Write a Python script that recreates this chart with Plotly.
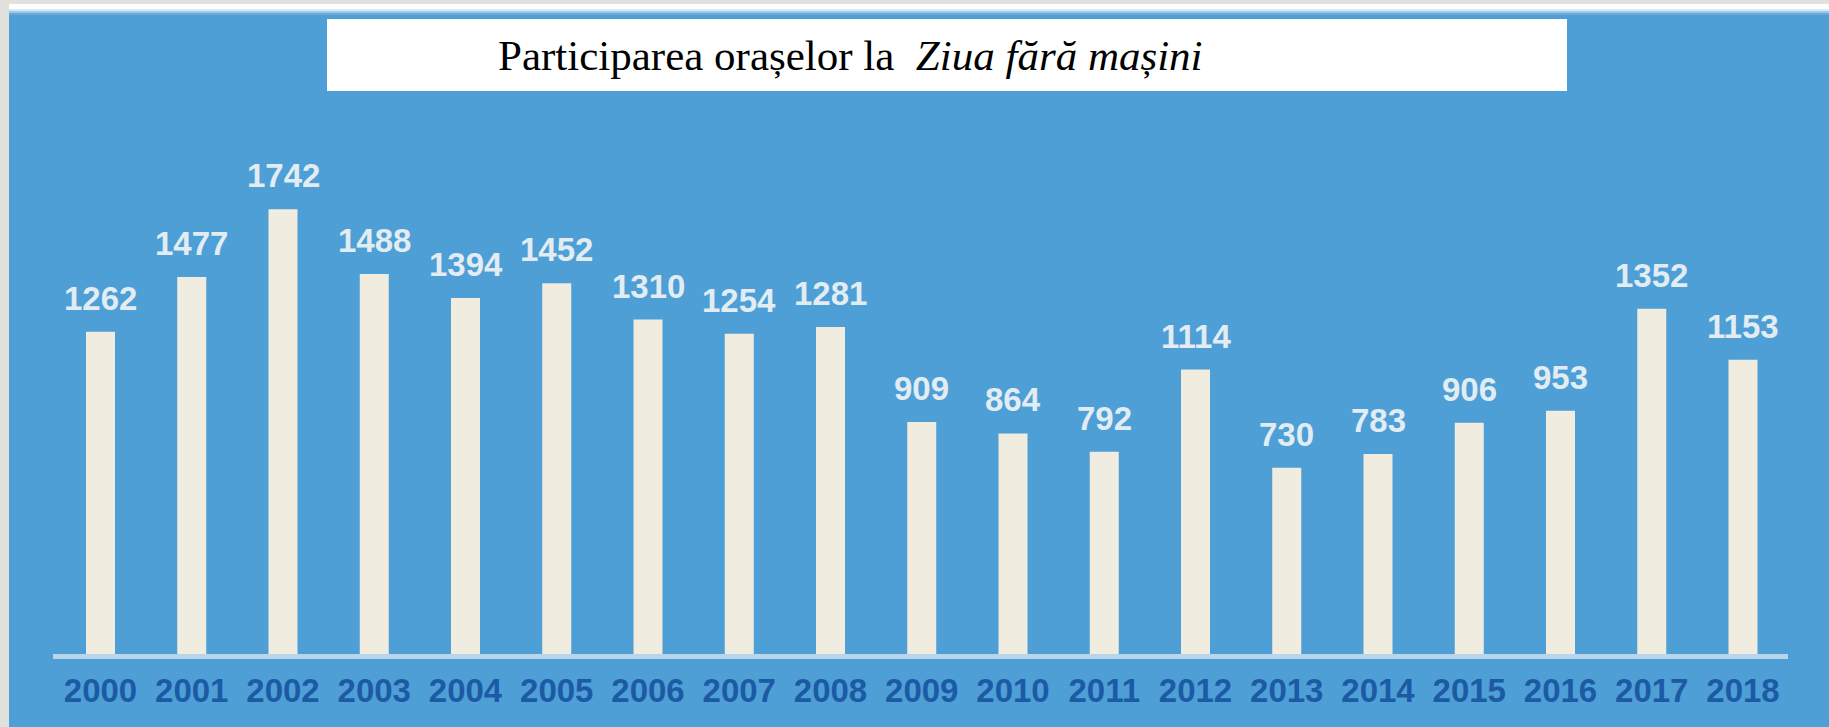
import plotly.graph_objects as go

# ---- data ----
years = ["2000", "2001", "2002", "2003", "2004", "2005", "2006", "2007", "2008", "2009",
         "2010", "2011", "2012", "2013", "2014", "2015", "2016", "2017", "2018"]
cities = [1262, 1477, 1742, 1488, 1394, 1452, 1310, 1254, 1281, 909,
          864, 792, 1114, 730, 783, 906, 953, 1352, 1153]
title_plain = "Participarea orașelor la\u00a0 "
title_italic = "Ziua fără mașini"

# ---- geometry (pixels) ----
W, H = 1829, 727
BASE = 654            # baseline pixel (bottom of plot area)
PX_PER_UNIT = 0.2553
FIRST_C, PITCH = 100.5, 91.25

BLUE = "#4e9fd6"
BAR = "#f0ecdf"
GRAY = "#e0e0dc"
TICK = "#1d5aa5"
LABEL = "#e2ecf3"


def px_x(p):
    return p / W


def px_y(p):
    return (BASE - p) / BASE


fig = go.Figure()
fig.add_trace(go.Bar(
    x=years, y=cities, marker=dict(color=BAR, line=dict(width=0)),
    width=29 / PITCH, hoverinfo="x+y",
))

annotations = []
for i, v in enumerate(cities):
    annotations.append(dict(
        x=i, y=v, xref="x", yref="y", text=str(v), showarrow=False,
        yanchor="bottom", xanchor="center", yshift=13,
        font=dict(family="Liberation Sans, Arial", size=33, color=LABEL, weight="bold"),
    ))

annotations.append(dict(
    x=px_x(496), y=px_y(81), xref="paper", yref="paper", xanchor="left", yanchor="bottom",
    text=title_plain + "<i>" + title_italic + "</i>", showarrow=False,
    font=dict(family="Liberation Serif, Times New Roman", size=43, color="#000000"),
))

shapes = [
    # gray frame left & top
    dict(type="rect", xref="paper", yref="paper", x0=px_x(0), x1=px_x(9), y0=px_y(H), y1=px_y(0),
         fillcolor=GRAY, line=dict(width=0), layer="below"),
    dict(type="rect", xref="paper", yref="paper", x0=px_x(0), x1=px_x(W), y0=px_y(4), y1=px_y(0),
         fillcolor=GRAY, line=dict(width=0), layer="below"),
    dict(type="rect", xref="paper", yref="paper", x0=px_x(9), x1=px_x(W), y0=px_y(9), y1=px_y(4),
         fillcolor="#ffffff", line=dict(width=0), layer="below"),
    dict(type="rect", xref="paper", yref="paper", x0=px_x(9), x1=px_x(W), y0=px_y(11), y1=px_y(9),
         fillcolor="#d6e9f7", line=dict(width=0), layer="below"),
    dict(type="rect", xref="paper", yref="paper", x0=px_x(9), x1=px_x(W), y0=px_y(13), y1=px_y(11),
         fillcolor="#9fc8e8", line=dict(width=0), layer="below"),
    dict(type="rect", xref="paper", yref="paper", x0=px_x(9), x1=px_x(W), y0=px_y(15), y1=px_y(13),
         fillcolor="#6aaadb", line=dict(width=0), layer="below"),
    # white title box
    dict(type="rect", xref="paper", yref="paper", x0=px_x(327), x1=px_x(1567), y0=px_y(91), y1=px_y(19),
         fillcolor="#ffffff", line=dict(width=0), layer="below"),
    # pale baseline
    dict(type="rect", xref="paper", yref="paper", x0=px_x(53), x1=px_x(1788), y0=px_y(659), y1=px_y(654),
         fillcolor="#b9d5ec", line=dict(width=0), layer="above"),
]

x0 = -FIRST_C / PITCH
x1 = (W - FIRST_C) / PITCH
fig.update_layout(
    width=W, height=H,
    margin=dict(l=0, r=0, t=0, b=H - BASE, pad=0),
    paper_bgcolor=BLUE, plot_bgcolor="rgba(0,0,0,0)",
    showlegend=False,
    xaxis=dict(type="category", range=[x0, x1], showgrid=False, zeroline=False, showline=False,
               ticks="outside", ticklen=7, tickcolor="rgba(0,0,0,0)",
               tickfont=dict(family="Liberation Sans, Arial", size=33, color=TICK, weight="bold")),
    yaxis=dict(range=[0, BASE / PX_PER_UNIT], visible=False, showgrid=False, zeroline=False),
    annotations=annotations,
    shapes=shapes,
)

fig.write_html("out.html", config={"displayModeBar": False},
               post_script="document.body.style.margin='0px';")
